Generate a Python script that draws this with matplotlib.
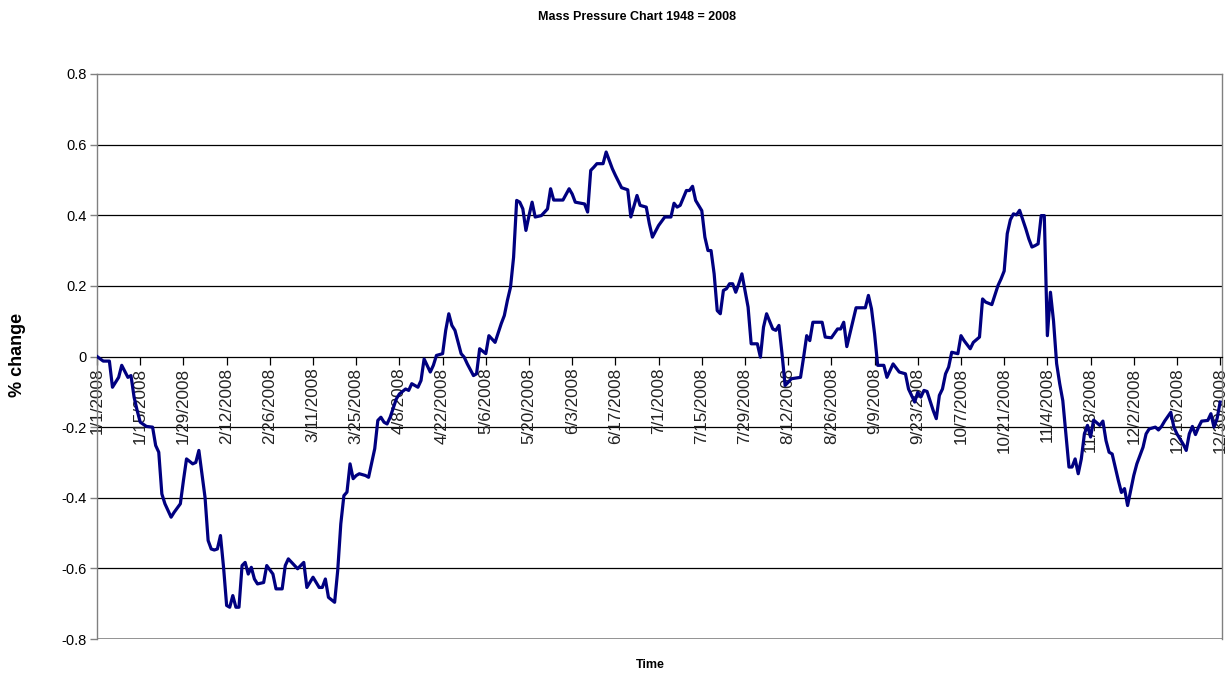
import matplotlib
matplotlib.use("Agg")
import matplotlib.pyplot as plt
import pandas as pd

plt.rcParams["font.family"] = ["Liberation Sans", "DejaVu Sans"]

# Day offsets from 1 Jan 2008 and the percent change on those days
day_offset = [
    0, 2, 4, 5, 7, 8, 10, 11, 12, 13, 14, 16, 18, 19, 20, 21, 22, 24, 25, 27,
    28, 29, 31, 32, 33, 34, 35, 36, 37, 38, 39, 40, 41, 42, 43, 44, 45, 46, 47, 48,
    49, 50, 51, 52, 54, 55, 57, 58, 60, 61, 62, 65, 67, 68, 70, 72, 73, 74, 75, 77,
    78, 79, 80, 81, 82, 83, 84, 85, 87, 88, 90, 91, 92, 93, 94, 95, 97, 98, 100, 101,
    102, 104, 105, 106, 108, 109, 110, 112, 113, 114, 115, 116, 118, 119, 120, 122, 123, 124, 126, 127,
    129, 131, 132, 133, 134, 135, 136, 137, 138, 139, 140, 141, 142, 144, 146, 147, 148, 151, 153, 154,
    155, 158, 159, 160, 161, 162, 164, 165, 167, 168, 170, 172, 173, 175, 176, 178, 179, 180, 182, 184,
    186, 187, 188, 189, 191, 192, 193, 194, 196, 197, 198, 199, 200, 201, 202, 203, 204, 205, 206, 207,
    208, 209, 211, 212, 214, 215, 216, 217, 219, 220, 221, 222, 223, 224, 225, 228, 229, 230, 231, 232,
    235, 236, 238, 240, 241, 242, 243, 245, 246, 249, 250, 251, 252, 253, 255, 256, 258, 260, 262, 263,
    265, 266, 267, 268, 269, 271, 272, 273, 274, 275, 276, 277, 279, 280, 281, 283, 284, 286, 287, 288,
    290, 292, 293, 294, 295, 296, 297, 298, 299, 301, 302, 303, 304, 305, 306, 307, 308, 309, 310, 311,
    312, 313, 314, 315, 316, 317, 318, 319, 320, 321, 322, 323, 325, 326, 327, 328, 329, 331, 332, 333,
    334, 335, 336, 337, 339, 340, 341, 343, 344, 345, 346, 348, 349, 350, 352, 353, 354, 355, 356, 357,
    358, 360, 361, 362, 363, 364,
]

pct_change = [
    0.000, -0.013, -0.013, -0.087, -0.059, -0.025, -0.059, -0.054, -0.115, -0.153,
    -0.186, -0.198, -0.200, -0.252, -0.271, -0.389, -0.417, -0.455, -0.441, -0.417,
    -0.351, -0.290, -0.304, -0.300, -0.266, -0.332, -0.399, -0.521, -0.545, -0.548,
    -0.545, -0.507, -0.597, -0.705, -0.710, -0.677, -0.710, -0.710, -0.592, -0.583,
    -0.616, -0.597, -0.630, -0.644, -0.640, -0.592, -0.616, -0.658, -0.658, -0.592,
    -0.573, -0.601, -0.583, -0.654, -0.625, -0.654, -0.654, -0.630, -0.682, -0.696,
    -0.606, -0.474, -0.394, -0.384, -0.304, -0.346, -0.337, -0.332, -0.337, -0.342,
    -0.261, -0.181, -0.172, -0.186, -0.191, -0.172, -0.120, -0.106, -0.092, -0.096,
    -0.077, -0.087, -0.068, -0.007, -0.044, -0.025, 0.003, 0.008, 0.074, 0.121,
    0.088, 0.074, 0.008, -0.002, -0.021, -0.054, -0.049, 0.022, 0.008, 0.059,
    0.040, 0.093, 0.116, 0.159, 0.196, 0.281, 0.442, 0.437, 0.418, 0.357,
    0.399, 0.437, 0.395, 0.399, 0.418, 0.475, 0.443, 0.443, 0.475, 0.460,
    0.437, 0.432, 0.409, 0.527, 0.536, 0.546, 0.546, 0.579, 0.532, 0.513,
    0.478, 0.472, 0.395, 0.456, 0.428, 0.423, 0.376, 0.338, 0.371, 0.395,
    0.395, 0.434, 0.423, 0.428, 0.470, 0.470, 0.482, 0.442, 0.413, 0.338,
    0.300, 0.300, 0.234, 0.130, 0.121, 0.187, 0.192, 0.206, 0.206, 0.182,
    0.206, 0.234, 0.140, 0.036, 0.036, -0.002, 0.083, 0.121, 0.078, 0.074,
    0.088, 0.008, -0.082, -0.073, -0.063, -0.059, -0.002, 0.059, 0.045, 0.097,
    0.097, 0.055, 0.053, 0.078, 0.078, 0.097, 0.028, 0.102, 0.138, 0.138,
    0.173, 0.135, 0.064, -0.025, -0.025, -0.059, -0.021, -0.044, -0.049, -0.092,
    -0.129, -0.101, -0.115, -0.096, -0.099, -0.153, -0.176, -0.110, -0.092, -0.049,
    -0.030, 0.012, 0.008, 0.059, 0.045, 0.022, 0.040, 0.055, 0.163, 0.154,
    0.147, 0.201, 0.220, 0.242, 0.348, 0.387, 0.404, 0.401, 0.414, 0.362,
    0.333, 0.310, 0.314, 0.319, 0.399, 0.399, 0.059, 0.182, 0.100, -0.020,
    -0.077, -0.125, -0.219, -0.313, -0.313, -0.290, -0.332, -0.290, -0.219, -0.195,
    -0.228, -0.180, -0.195, -0.183, -0.238, -0.271, -0.276, -0.351, -0.385, -0.374,
    -0.422, -0.380, -0.337, -0.304, -0.257, -0.219, -0.205, -0.200, -0.208, -0.198,
    -0.183, -0.158, -0.200, -0.219, -0.248, -0.266, -0.219, -0.198, -0.221, -0.200,
    -0.183, -0.181, -0.162, -0.200, -0.176, -0.129,
]

y_ticks = [-0.8, -0.6, -0.4, -0.2, 0, 0.2, 0.4, 0.6, 0.8]
y_tick_labels = ["-0.8", "-0.6", "-0.4", "-0.2", "0", "0.2", "0.4", "0.6", "0.8"]

start = pd.Timestamp("2008-01-01")
dates = start + pd.to_timedelta(day_offset, unit="D")
tick_dates = pd.date_range("2008-01-01", "2008-12-30", freq="14D")
tick_labels = [f"{d.month}/{d.day}/{d.year}" for d in tick_dates]

fig = plt.figure(figsize=(12.3, 6.75), dpi=100)
ax = fig.add_axes([0.0789, 0.0533, 0.9146, 0.8371])

ax.plot(dates, pct_change, color="#000080", lw=2.3, solid_joinstyle="round", zorder=3)

ax.set_ylim(-0.8, 0.8)
ax.set_xlim(start, start + pd.Timedelta(days=364.6))

# horizontal gridlines
for yv in [-0.6, -0.4, -0.2, 0.2, 0.4, 0.6]:
    ax.axhline(yv, color="black", lw=0.9, zorder=1)

# plot-area frame
for side in ["left", "right", "top"]:
    ax.spines[side].set_color("#808080")
    ax.spines[side].set_linewidth(1.0)
ax.spines["bottom"].set_position(("data", 0))
ax.spines["bottom"].set_color("black")
ax.spines["bottom"].set_linewidth(0.9)
ax.axhline(-0.8, color="#808080", lw=1.2, zorder=1)

ax.set_yticks(y_ticks)
ax.set_yticklabels(y_tick_labels)
ax.set_xticks(tick_dates)
ax.set_xticklabels(tick_labels, rotation=90)

ax.tick_params(axis="y", direction="out", length=5, width=1, color="#808080",
               labelsize=10.5, pad=2.5)
ax.tick_params(axis="x", direction="out", length=6, width=0.9, color="black",
               labelsize=12.3, pad=2, labelcolor="#222222")

fig.text(637 / 1230, 1 - 17 / 675, "Mass Pressure Chart 1948 = 2008",
         ha="center", va="center", fontsize=9, fontweight="bold")
fig.text(18 / 1230, 1 - 355 / 675, "% change", rotation=90,
         ha="center", va="center", fontsize=13, fontweight="bold")
fig.text(650 / 1230, 1 - 665 / 675, "Time",
         ha="center", va="center", fontsize=9, fontweight="bold")

fig.savefig("out.png", dpi=100, facecolor="white")
